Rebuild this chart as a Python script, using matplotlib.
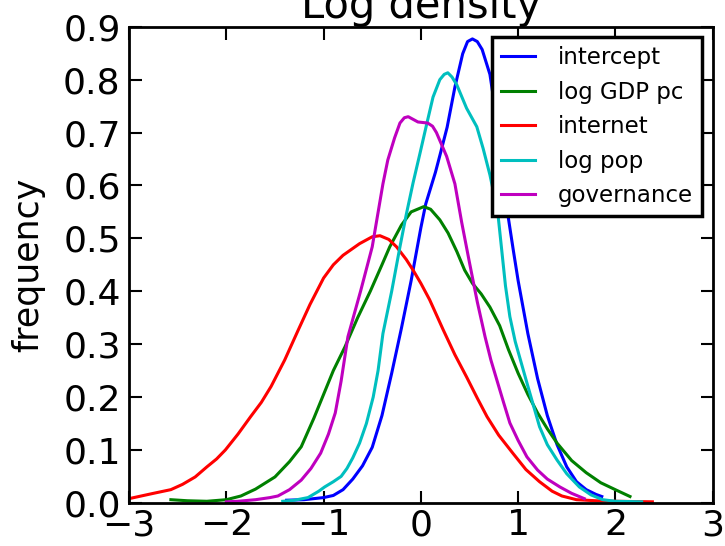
import matplotlib as mpl
mpl.use('agg')
import matplotlib.pyplot as plt

# curves (x, density)
intercept_x = [-1.38, -1.2, -1.0, -0.9, -0.8, -0.7, -0.6, -0.5, -0.4, -0.3, -0.2, -0.1, 0.0, 0.05, 0.1, 0.15, 0.2, 0.27, 0.35, 0.43, 0.48, 0.53, 0.58, 0.63, 0.71, 0.8, 0.89, 0.95, 1.0, 1.1, 1.2, 1.3, 1.4, 1.5, 1.6, 1.7, 1.8, 1.86]
intercept_y = [0.005, 0.006, 0.01, 0.014, 0.025, 0.045, 0.07, 0.105, 0.165, 0.245, 0.33, 0.42, 0.52, 0.565, 0.595, 0.625, 0.66, 0.71, 0.786, 0.849, 0.872, 0.877, 0.872, 0.857, 0.81, 0.70, 0.55, 0.478, 0.42, 0.32, 0.235, 0.165, 0.11, 0.068, 0.04, 0.025, 0.016, 0.012]

gdp_x = [-2.57, -2.4, -2.2, -2.0, -1.85, -1.7, -1.5, -1.35, -1.23, -1.1, -1.0, -0.9, -0.78, -0.65, -0.52, -0.4, -0.32, -0.2, -0.1, 0.03, 0.1, 0.195, 0.28, 0.37, 0.45, 0.53, 0.62, 0.71, 0.81, 0.9, 1.0, 1.1, 1.2, 1.3, 1.4, 1.55, 1.7, 1.85, 2.01, 2.15]
gdp_y = [0.006, 0.004, 0.003, 0.006, 0.013, 0.026, 0.049, 0.078, 0.106, 0.16, 0.205, 0.25, 0.295, 0.35, 0.40, 0.45, 0.484, 0.525, 0.55, 0.56, 0.555, 0.535, 0.51, 0.475, 0.44, 0.415, 0.395, 0.37, 0.335, 0.29, 0.245, 0.205, 0.17, 0.14, 0.113, 0.08, 0.057, 0.038, 0.024, 0.012]

internet_x = [-3.0, -2.9, -2.75, -2.57, -2.45, -2.32, -2.2, -2.1, -2.01, -1.88, -1.75, -1.64, -1.54, -1.4, -1.26, -1.14, -1.0, -0.9, -0.8, -0.63, -0.5, -0.42, -0.33, -0.25, -0.15, -0.08, 0.0, 0.09, 0.23, 0.35, 0.47, 0.58, 0.68, 0.8, 0.945, 1.08, 1.22, 1.35, 1.45, 1.6, 1.8, 2.0, 2.38]
internet_y = [0.008, 0.012, 0.018, 0.025, 0.035, 0.049, 0.068, 0.083, 0.1, 0.13, 0.163, 0.19, 0.22, 0.27, 0.327, 0.375, 0.425, 0.45, 0.468, 0.49, 0.503, 0.505, 0.498, 0.484, 0.46, 0.44, 0.415, 0.384, 0.327, 0.28, 0.238, 0.198, 0.163, 0.128, 0.094, 0.063, 0.04, 0.022, 0.013, 0.006, 0.004, 0.003, 0.002]

pop_x = [-1.42, -1.3, -1.16, -1.05, -0.99, -0.9, -0.82, -0.76, -0.7, -0.63, -0.56, -0.49, -0.44, -0.39, -0.3, -0.215, -0.15, -0.08, -0.01, 0.06, 0.125, 0.195, 0.24, 0.277, 0.32, 0.37, 0.47, 0.575, 0.64, 0.71, 0.79, 0.83, 0.87, 0.915, 0.97, 1.09, 1.22, 1.3, 1.4, 1.5, 1.63, 1.75, 1.87, 2.0, 2.27]
pop_y = [0.003, 0.005, 0.01, 0.022, 0.03, 0.04, 0.05, 0.065, 0.085, 0.113, 0.15, 0.20, 0.25, 0.32, 0.40, 0.484, 0.545, 0.605, 0.66, 0.716, 0.767, 0.80, 0.81, 0.813, 0.805, 0.79, 0.746, 0.711, 0.67, 0.62, 0.55, 0.48, 0.41, 0.352, 0.305, 0.227, 0.144, 0.11, 0.081, 0.055, 0.03, 0.015, 0.006, 0.003, 0.002]

gov_x = [-2.0, -1.88, -1.7, -1.55, -1.47, -1.35, -1.23, -1.13, -1.03, -0.95, -0.88, -0.82, -0.75, -0.62, -0.5, -0.39, -0.34, -0.27, -0.215, -0.17, -0.13, -0.08, -0.03, 0.07, 0.12, 0.16, 0.195, 0.265, 0.35, 0.42, 0.5, 0.58, 0.66, 0.72, 0.78, 0.85, 0.915, 1.0, 1.09, 1.2, 1.3, 1.43, 1.55, 1.68]
gov_y = [0.002, 0.003, 0.006, 0.01, 0.013, 0.025, 0.043, 0.065, 0.094, 0.13, 0.17, 0.23, 0.314, 0.40, 0.484, 0.603, 0.648, 0.69, 0.718, 0.728, 0.73, 0.725, 0.72, 0.718, 0.712, 0.70, 0.685, 0.655, 0.603, 0.53, 0.454, 0.38, 0.314, 0.27, 0.233, 0.19, 0.151, 0.118, 0.087, 0.062, 0.045, 0.03, 0.018, 0.008]

series = [
    ("intercept", intercept_x, intercept_y, "b"),
    ("log GDP pc", gdp_x, gdp_y, "g"),
    ("internet", internet_x, internet_y, "r"),
    ("log pop", pop_x, pop_y, "c"),
    ("governance", gov_x, gov_y, "m"),
]

plt.rcParams['font.family'] = 'DejaVu Sans'
plt.rcParams['xtick.direction'] = 'in'
plt.rcParams['ytick.direction'] = 'in'

fig = plt.figure(figsize=(7.25, 5.46), dpi=100)
ax = fig.add_axes([0.178, 0.079, 0.805, 0.872])

for name, xs, ys, col in series:
    ax.plot(xs, ys, color=col, lw=2.2, label=name)

ax.set_xlim(-3, 3)
ax.set_ylim(0, 0.9)
ax.set_xticks([-3, -2, -1, 0, 1, 2, 3])
ax.set_yticks([0.0, 0.1, 0.2, 0.3, 0.4, 0.5, 0.6, 0.7, 0.8, 0.9])
ax.set_yticklabels(["0.0", "0.1", "0.2", "0.3", "0.4", "0.5", "0.6", "0.7", "0.8", "0.9"])
ax.set_xticklabels(["\u22123", "\u22122", "\u22121", "0", "1", "2", "3"])
ax.tick_params(which='major', labelsize=26, length=9, width=1.5, top=True, right=True)
ax.tick_params(axis='x', pad=4)
ax.tick_params(axis='y', pad=6)
for sp in ax.spines.values():
    sp.set_linewidth(2)

ax.set_title("Log density", fontsize=30)
ax.set_ylabel("frequency", fontsize=25, labelpad=13)

leg = ax.legend(loc='upper right', fontsize=16.5, fancybox=False, framealpha=1,
                handlelength=1.5, handletextpad=1.0, borderaxespad=0.45)
leg.get_frame().set_linewidth(2.5)
leg.get_frame().set_edgecolor('black')

fig.savefig("out.png", dpi=100)
